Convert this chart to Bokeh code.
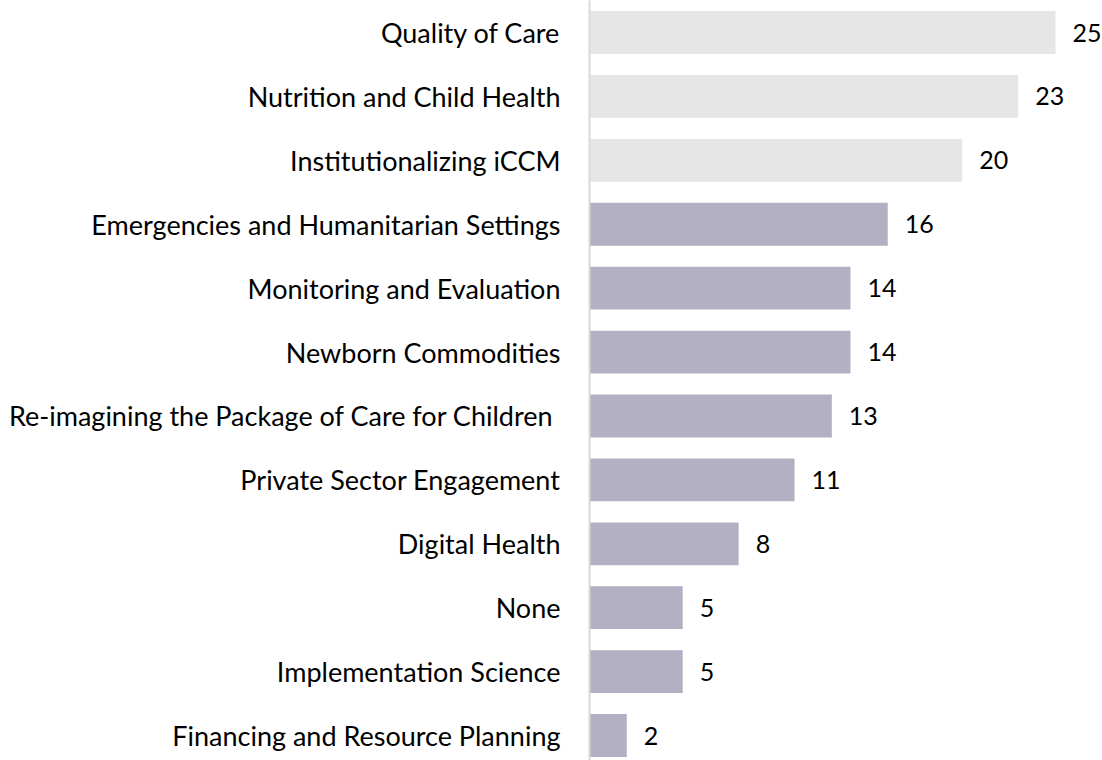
from bokeh.plotting import figure
from bokeh.models import Range1d, FixedTicker, ColumnDataSource
from bokeh.core.properties import value
from bokeh.embed import file_html
from bokeh.resources import INLINE

categories = [
    "Quality of Care",
    "Nutrition and Child Health",
    "Institutionalizing iCCM",
    "Emergencies and Humanitarian Settings",
    "Monitoring and Evaluation",
    "Newborn Commodities",
    "Re-imagining the Package of Care for Children ",
    "Private Sector Engagement",
    "Digital Health",
    "None",
    "Implementation Science",
    "Financing and Resource Planning",
]
counts = [25, 23, 20, 16, 14, 14, 13, 11, 8, 5, 5, 2]
highlight = [True, True, True, False, False, False, False, False, False, False, False, False]

LIGHT = "#e6e6e6"
PURPLE = "#b3b0c4"
FONT = "Lato"

n = len(categories)
ypos = [n - 1 - i for i in range(n)]
colors = [LIGHT if h else PURPLE for h in highlight]
labels = [str(c) for c in counts]

src = ColumnDataSource(dict(y=ypos, v=counts, c=colors, t=labels))

p = figure(
    width=1102, height=760,
    output_backend="svg", toolbar_location=None,
    x_range=Range1d(0, 27.52),
    y_range=Range1d(-0.391, n - 1 + 0.501),
    min_border_left=589, min_border_right=0, min_border_top=0, min_border_bottom=0,
)

p.hbar(y="y", right="v", left=0, height=0.67, color="c", line_color=None, source=src)
p.text(x="v", y="y", text="t", source=src, x_offset=17,
       text_align="left", text_baseline="middle",
       text_font=value(FONT), text_font_size="25px", text_color="#000000")

p.xaxis.visible = False
p.xgrid.visible = False
p.ygrid.visible = False
p.outline_line_color = None

ax = p.yaxis[0]
ax.ticker = FixedTicker(ticks=ypos)
ax.major_label_overrides = {y: cat for y, cat in zip(ypos, categories)}
ax.major_tick_line_color = None
ax.minor_tick_line_color = None
ax.axis_line_color = "#d9d9d9"
ax.axis_line_width = 2
ax.major_label_standoff = 23
ax.major_label_text_font = FONT
ax.major_label_text_font_size = "27px"
ax.major_label_text_color = "#000000"

open("out.html", "w").write(file_html(p, INLINE))
